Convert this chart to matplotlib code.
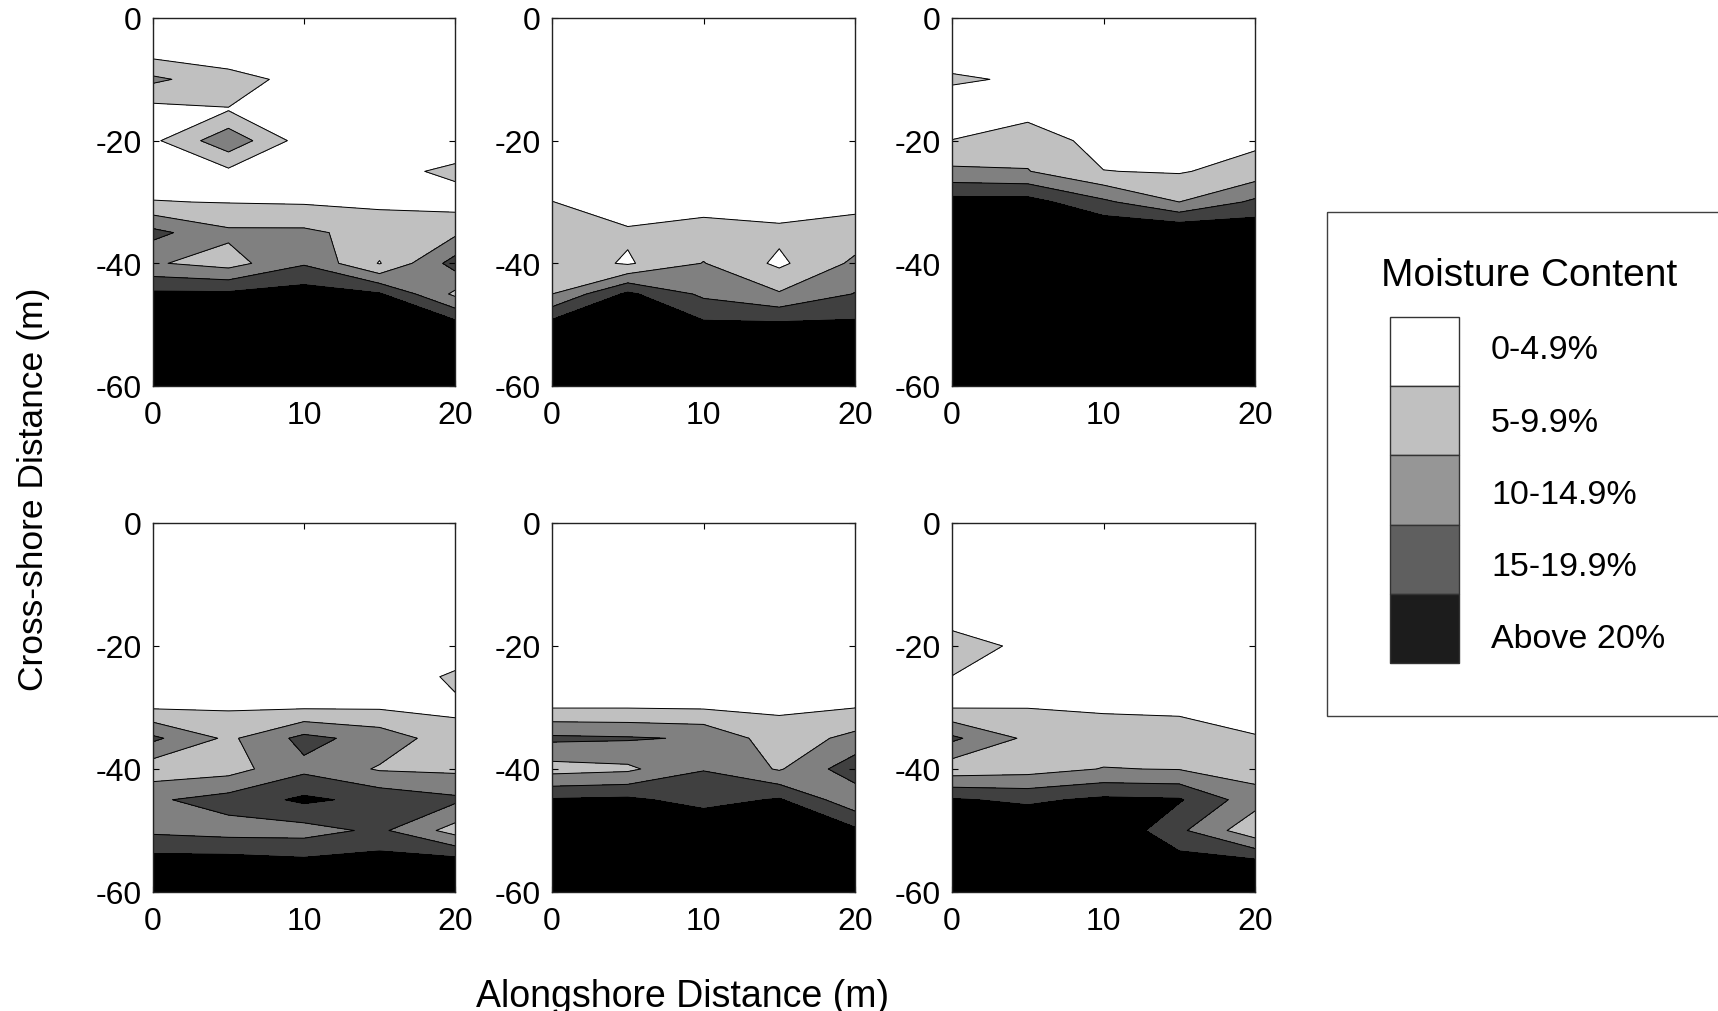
import matplotlib.pyplot as plt
import matplotlib.patches as mpatches
import numpy as np

plt.rcParams["font.family"] = ["Liberation Sans", "DejaVu Sans"]
plt.rcParams["axes.unicode_minus"] = False

# grid of the survey (m)
alongshore = [0, 5, 10, 15, 20]
cross_shore = [0, -5, -10, -15, -20, -25, -30, -35, -40, -45, -50, -55, -60]

x_ticks = [0, 10, 20]
y_ticks = [0, -20, -40, -60]

levels = [0, 5, 10, 15, 20, 30]
fill_colors = ["#ffffff", "#c0c0c0", "#808080", "#404040", "#000000"]

legend_title = "Moisture Content"
legend_labels = ["0-4.9%", "5-9.9%", "10-14.9%", "15-19.9%", "Above 20%"]
legend_colors = ["#ffffff", "#c0c0c0", "#969696", "#5f5f5f", "#1c1c1c"]

# moisture content (%), rows = cross-shore 0..-60, cols = alongshore 0..20
panel_a = [
    [1, 1, 1, 1, 1],
    [2, 1, 1, 1, 1],
    [11, 7, 3.3, 1, 1],
    [3.3, 4.8, 3, 2, 1],
    [4, 13.5, 2.6, 1, 2],
    [2, 4, 2, 3.5, 6],
    [5.2, 4.8, 4.5, 4, 3],
    [16.5, 11, 11, 8, 9],
    [10.5, 8, 14.5, 4.7, 17],
    [21, 21, 22.4, 20.5, 9],
    [25, 25, 25, 25, 22],
    [25, 25, 25, 25, 25],
    [25, 25, 25, 25, 25],
]
panel_b = [
    [1, 1, 1, 1, 1],
    [1, 1, 1, 1, 1],
    [1, 1, 1, 1, 1],
    [1, 1, 1, 1, 1],
    [1, 1, 1, 1, 1],
    [1, 1, 1, 1, 1],
    [5.1, 2, 3, 2.5, 3.5],
    [7, 5.75, 7, 6.1, 7.25],
    [8, 4.4, 10.2, 4.0, 11],
    [10, 21, 14, 10.5, 15.2],
    [22, 25, 21, 21, 21],
    [25, 25, 25, 25, 25],
    [25, 25, 25, 25, 25],
]
panel_c = [
    [1, 1, 1, 1, 1],
    [2, 1, 1, 1, 1],
    [5.7, 4.3, 1, 1, 1],
    [2, 3, 2, 1, 1],
    [5.1, 8, 3, 2, 4],
    [11, 10.2, 5.1, 4.6, 7],
    [22, 22, 16, 10, 16],
    [25, 25, 25, 25, 24],
    [25, 25, 25, 25, 25],
    [25, 25, 25, 25, 25],
    [25, 25, 25, 25, 25],
    [25, 25, 25, 25, 25],
    [25, 25, 25, 25, 25],
]
panel_d = [
    [1, 1, 1, 1, 1],
    [1, 1, 1, 1, 1],
    [1, 1, 1, 1, 1],
    [1, 1, 1, 1, 1],
    [1, 1, 1, 1, 1],
    [1, 1, 1, 1, 6],
    [4.5, 4.5, 4.5, 4.5, 4],
    [16, 9, 16.5, 13, 7],
    [7, 8, 13.8, 9.5, 9],
    [14.3, 17, 21, 18.5, 16],
    [14, 13, 13, 16, 8],
    [22, 22, 21, 22, 22],
    [25, 25, 25, 25, 25],
]
panel_e = [
    [1, 1, 1, 1, 1],
    [1, 1, 1, 1, 1],
    [1, 1, 1, 1, 1],
    [1, 1, 1, 1, 1],
    [1, 1, 1, 1, 1],
    [1, 1, 1, 1, 1],
    [4.8, 4.8, 4.5, 4.3, 4.9],
    [16, 15.5, 14.5, 7, 11.5],
    [8, 9, 14.8, 9.5, 18],
    [20.5, 21, 18, 20.5, 11.5],
    [25, 25, 25, 25, 21],
    [25, 25, 25, 25, 25],
    [25, 25, 25, 25, 25],
]
panel_f = [
    [1, 1, 1, 1, 1],
    [1, 1, 1, 1, 1],
    [1, 1, 1, 1, 1],
    [2, 1, 1, 1, 1],
    [8, 3.5, 1, 1, 1],
    [4.9, 2, 1, 1, 1],
    [4.8, 4.9, 4.5, 4.2, 3],
    [16, 9, 7, 7, 5.3],
    [7, 8, 10.2, 9.8, 8],
    [20.5, 19, 21, 20.5, 12],
    [25, 25, 25, 16, 6.5],
    [25, 25, 25, 22, 21],
    [25, 25, 25, 25, 25],
]

W, H = 1718, 1012


def px_box(left, top, right, bottom):
    return [left / W, 1 - bottom / H, (right - left) / W, (bottom - top) / H]


def draw_panel(ax, grid):
    z = np.array(grid, dtype=float)
    ax.contourf(alongshore, cross_shore, z, levels=levels, colors=fill_colors)
    ax.contour(
        alongshore, cross_shore, z, levels=levels[1:-1], colors="k", linewidths=0.7
    )
    ax.set_xlim(0, 20)
    ax.set_ylim(-60, 0)
    ax.set_xticks(x_ticks)
    ax.set_yticks(y_ticks)
    ax.tick_params(
        direction="in", top=True, right=True, length=4, width=0.8, labelsize=23
    )
    ax.tick_params(axis="x", pad=10)
    ax.tick_params(axis="y", pad=8)
    for sp in ax.spines.values():
        sp.set_linewidth(1.0)
        sp.set_color("#222222")


fig = plt.figure(figsize=(W / 100, H / 100), dpi=100)

# overlay in pixel coords for labels and legend
bg = fig.add_axes([0, 0, 1, 1])
bg.set_xlim(0, W)
bg.set_ylim(H, 0)
bg.axis("off")

col_edges = [(153, 455), (552, 855), (952, 1255)]
row_edges = [(19, 387), (524, 893)]
panels = [panel_a, panel_b, panel_c, panel_d, panel_e, panel_f]

for k, grid in enumerate(panels):
    left, right = col_edges[k % 3]
    top, bottom = row_edges[k // 3]
    ax = fig.add_axes(px_box(left, top, right, bottom))
    draw_panel(ax, grid)

bg.text(34, 489, "Cross-shore Distance (m)", rotation=90, ha="center",
        va="center", fontsize=25.5)
bg.text(683, 997, "Alongshore Distance (m)", ha="center", va="center",
        fontsize=27)

# legend box
bg.add_patch(mpatches.Rectangle((1327, 213), 420, 504, fill=False,
                                edgecolor="#404040", linewidth=1.0))
bg.text(1529, 276, legend_title, ha="center", va="center", fontsize=28)
sw_top, sw_h = 318, 69.2
label_y = [350, 423, 495, 568, 640]
for i, (lab, col) in enumerate(zip(legend_labels, legend_colors)):
    bg.add_patch(mpatches.Rectangle((1390, sw_top + i * sw_h), 69, sw_h,
                                    facecolor=col, edgecolor="#333333",
                                    linewidth=1.0))
    bg.text(1491, label_y[i], lab, ha="left", va="center", fontsize=24.5)

fig.savefig("out.png", dpi=100)
